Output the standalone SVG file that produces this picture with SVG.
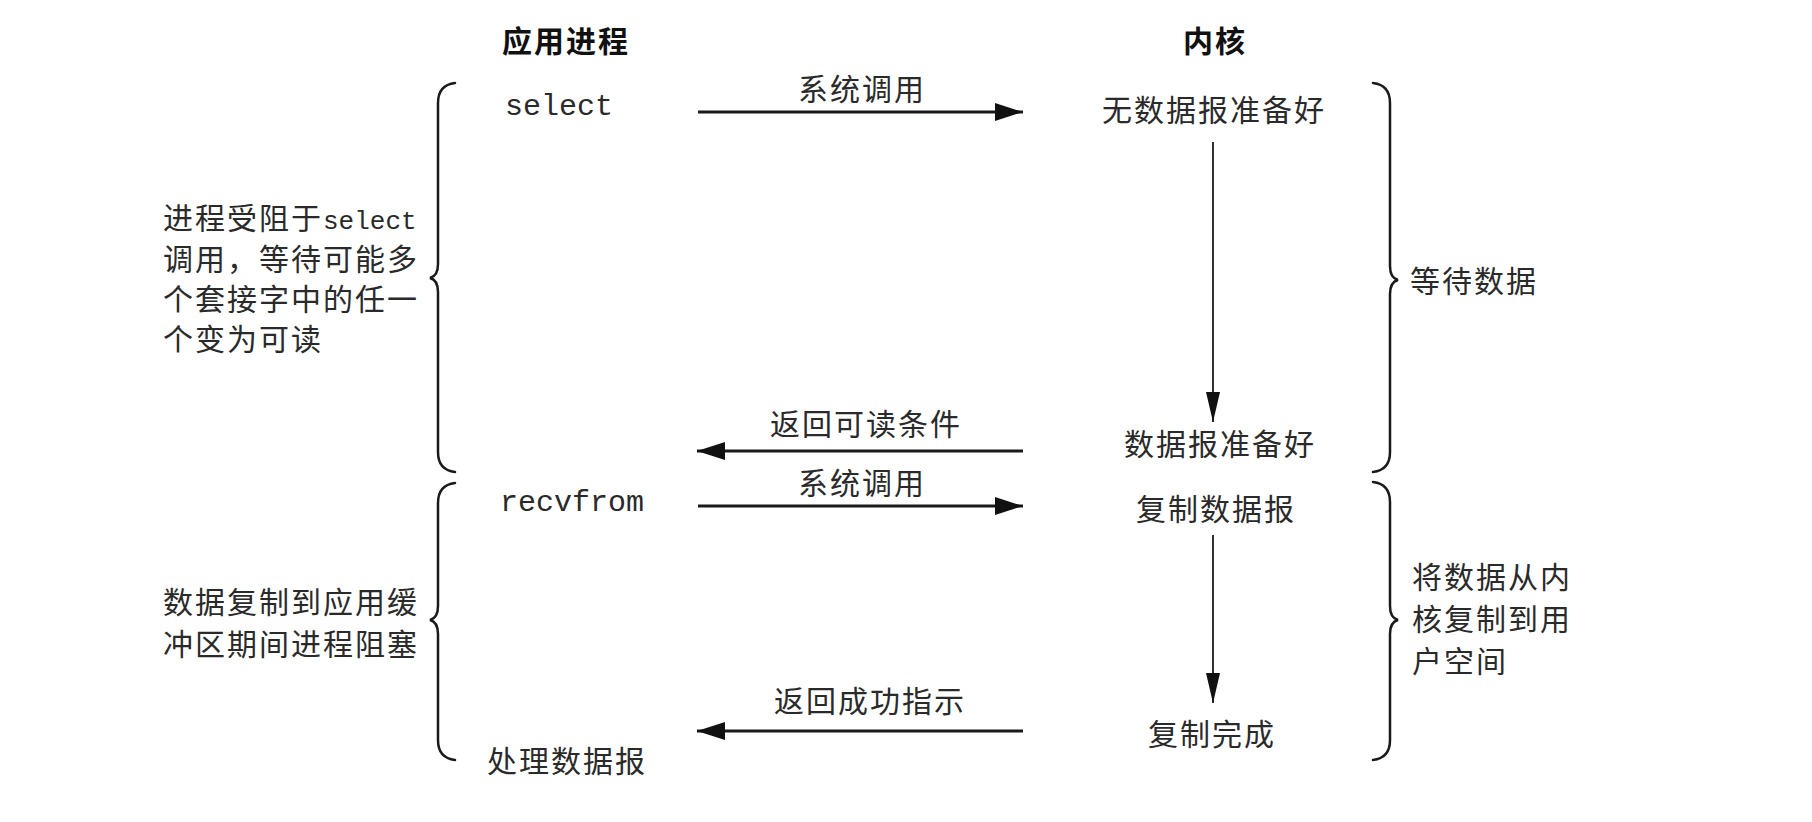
<svg xmlns="http://www.w3.org/2000/svg" width="1812" height="822" viewBox="0 0 1812 822">
<defs>
<style>
text{font-family:"Noto Sans CJK SC","Noto Sans",sans-serif;font-size:30px;fill:#2a2a2a;letter-spacing:2px}
.title{font-weight:bold;fill:#111}
.mono{font-family:"Liberation Mono","DejaVu Sans Mono",monospace;letter-spacing:0}
.mid{text-anchor:middle}
.h{stroke:#1a1a1a;stroke-width:3;fill:none}
.v{stroke:#1a1a1a;stroke-width:1.8;fill:none}
.brace{stroke:#1a1a1a;stroke-width:2.5;fill:none;stroke-linecap:round}
</style>
<marker id="ah" markerUnits="userSpaceOnUse" markerWidth="30" markerHeight="20" refX="28" refY="9" orient="auto">
<path d="M0,0 L28,9 L0,18 Z" fill="#111"/>
</marker>
<marker id="av" markerUnits="userSpaceOnUse" markerWidth="32" markerHeight="16" refX="30" refY="7" orient="auto">
<path d="M0,0 L30,7 L0,14 Z" fill="#111"/>
</marker>
</defs>
<rect width="1812" height="822" fill="#ffffff"/>

<g id="title-app"><text class="title mid" x="566" y="52">应用进程</text></g>
<g id="title-kernel"><text class="title mid" x="1215" y="52">内核</text></g>

<g id="app-select"><text class="mono" x="505" y="115" font-size="31">select</text></g>
<g id="app-recvfrom"><text class="mono" x="500" y="511" font-size="31">recvfrom</text></g>
<g id="app-process"><text x="487" y="772">处理数据报</text></g>

<g id="kernel-nodata"><text class="mid" x="1214" y="121">无数据报准备好</text></g>
<g id="kernel-ready"><text class="mid" x="1220" y="455">数据报准备好</text></g>
<g id="kernel-copy"><text class="mid" x="1216" y="520">复制数据报</text></g>
<g id="kernel-done"><text class="mid" x="1212" y="745">复制完成</text></g>

<g id="note-left-1">
<text x="163" y="229">进程受阻于<tspan class="mono" font-size="26">select</tspan></text>
<text x="163" y="270">调用，等待可能多</text>
<text x="163" y="310">个套接字中的任一</text>
<text x="163" y="350">个变为可读</text>
</g>
<g id="note-left-2">
<text x="163" y="613">数据复制到应用缓</text>
<text x="163" y="655">冲区期间进程阻塞</text>
</g>
<g id="note-right-1"><text x="1410" y="292">等待数据</text></g>
<g id="note-right-2">
<text x="1412" y="588">将数据从内</text>
<text x="1412" y="630">核复制到用</text>
<text x="1412" y="672">户空间</text>
</g>

<g id="braces">
<path class="brace" d="M455,83 Q438,85 438,103 L438,264 Q438,276 430,278 Q438,280 438,292 L438,452 Q438,470 455,472"/>
<path class="brace" d="M455,483 Q438,485 438,503 L438,606 Q438,618 430,620 Q438,622 438,634 L438,740 Q438,758 455,760"/>
<path class="brace" d="M1373,83 Q1390,85 1390,103 L1390,266 Q1390,278 1398,280 Q1390,282 1390,294 L1390,452 Q1390,470 1373,472"/>
<path class="brace" d="M1373,482 Q1390,484 1390,502 L1390,606 Q1390,618 1398,620 Q1390,622 1390,634 L1390,740 Q1390,758 1373,760"/>
</g>

<g id="connectors">
<line class="h" x1="698" y1="112" x2="1023" y2="112" marker-end="url(#ah)"/>
<text class="mid" x="862" y="100">系统调用</text>
<line class="h" x1="1023" y1="451" x2="697" y2="451" marker-end="url(#ah)"/>
<text class="mid" x="866" y="435">返回可读条件</text>
<line class="h" x1="698" y1="506" x2="1023" y2="506" marker-end="url(#ah)"/>
<text class="mid" x="862" y="494">系统调用</text>
<line class="h" x1="1023" y1="731" x2="697" y2="731" marker-end="url(#ah)"/>
<text class="mid" x="870" y="712">返回成功指示</text>
<line class="v" x1="1213" y1="142" x2="1213" y2="422" marker-end="url(#av)"/>
<line class="v" x1="1213" y1="535" x2="1213" y2="703" marker-end="url(#av)"/>
</g>
</svg>
